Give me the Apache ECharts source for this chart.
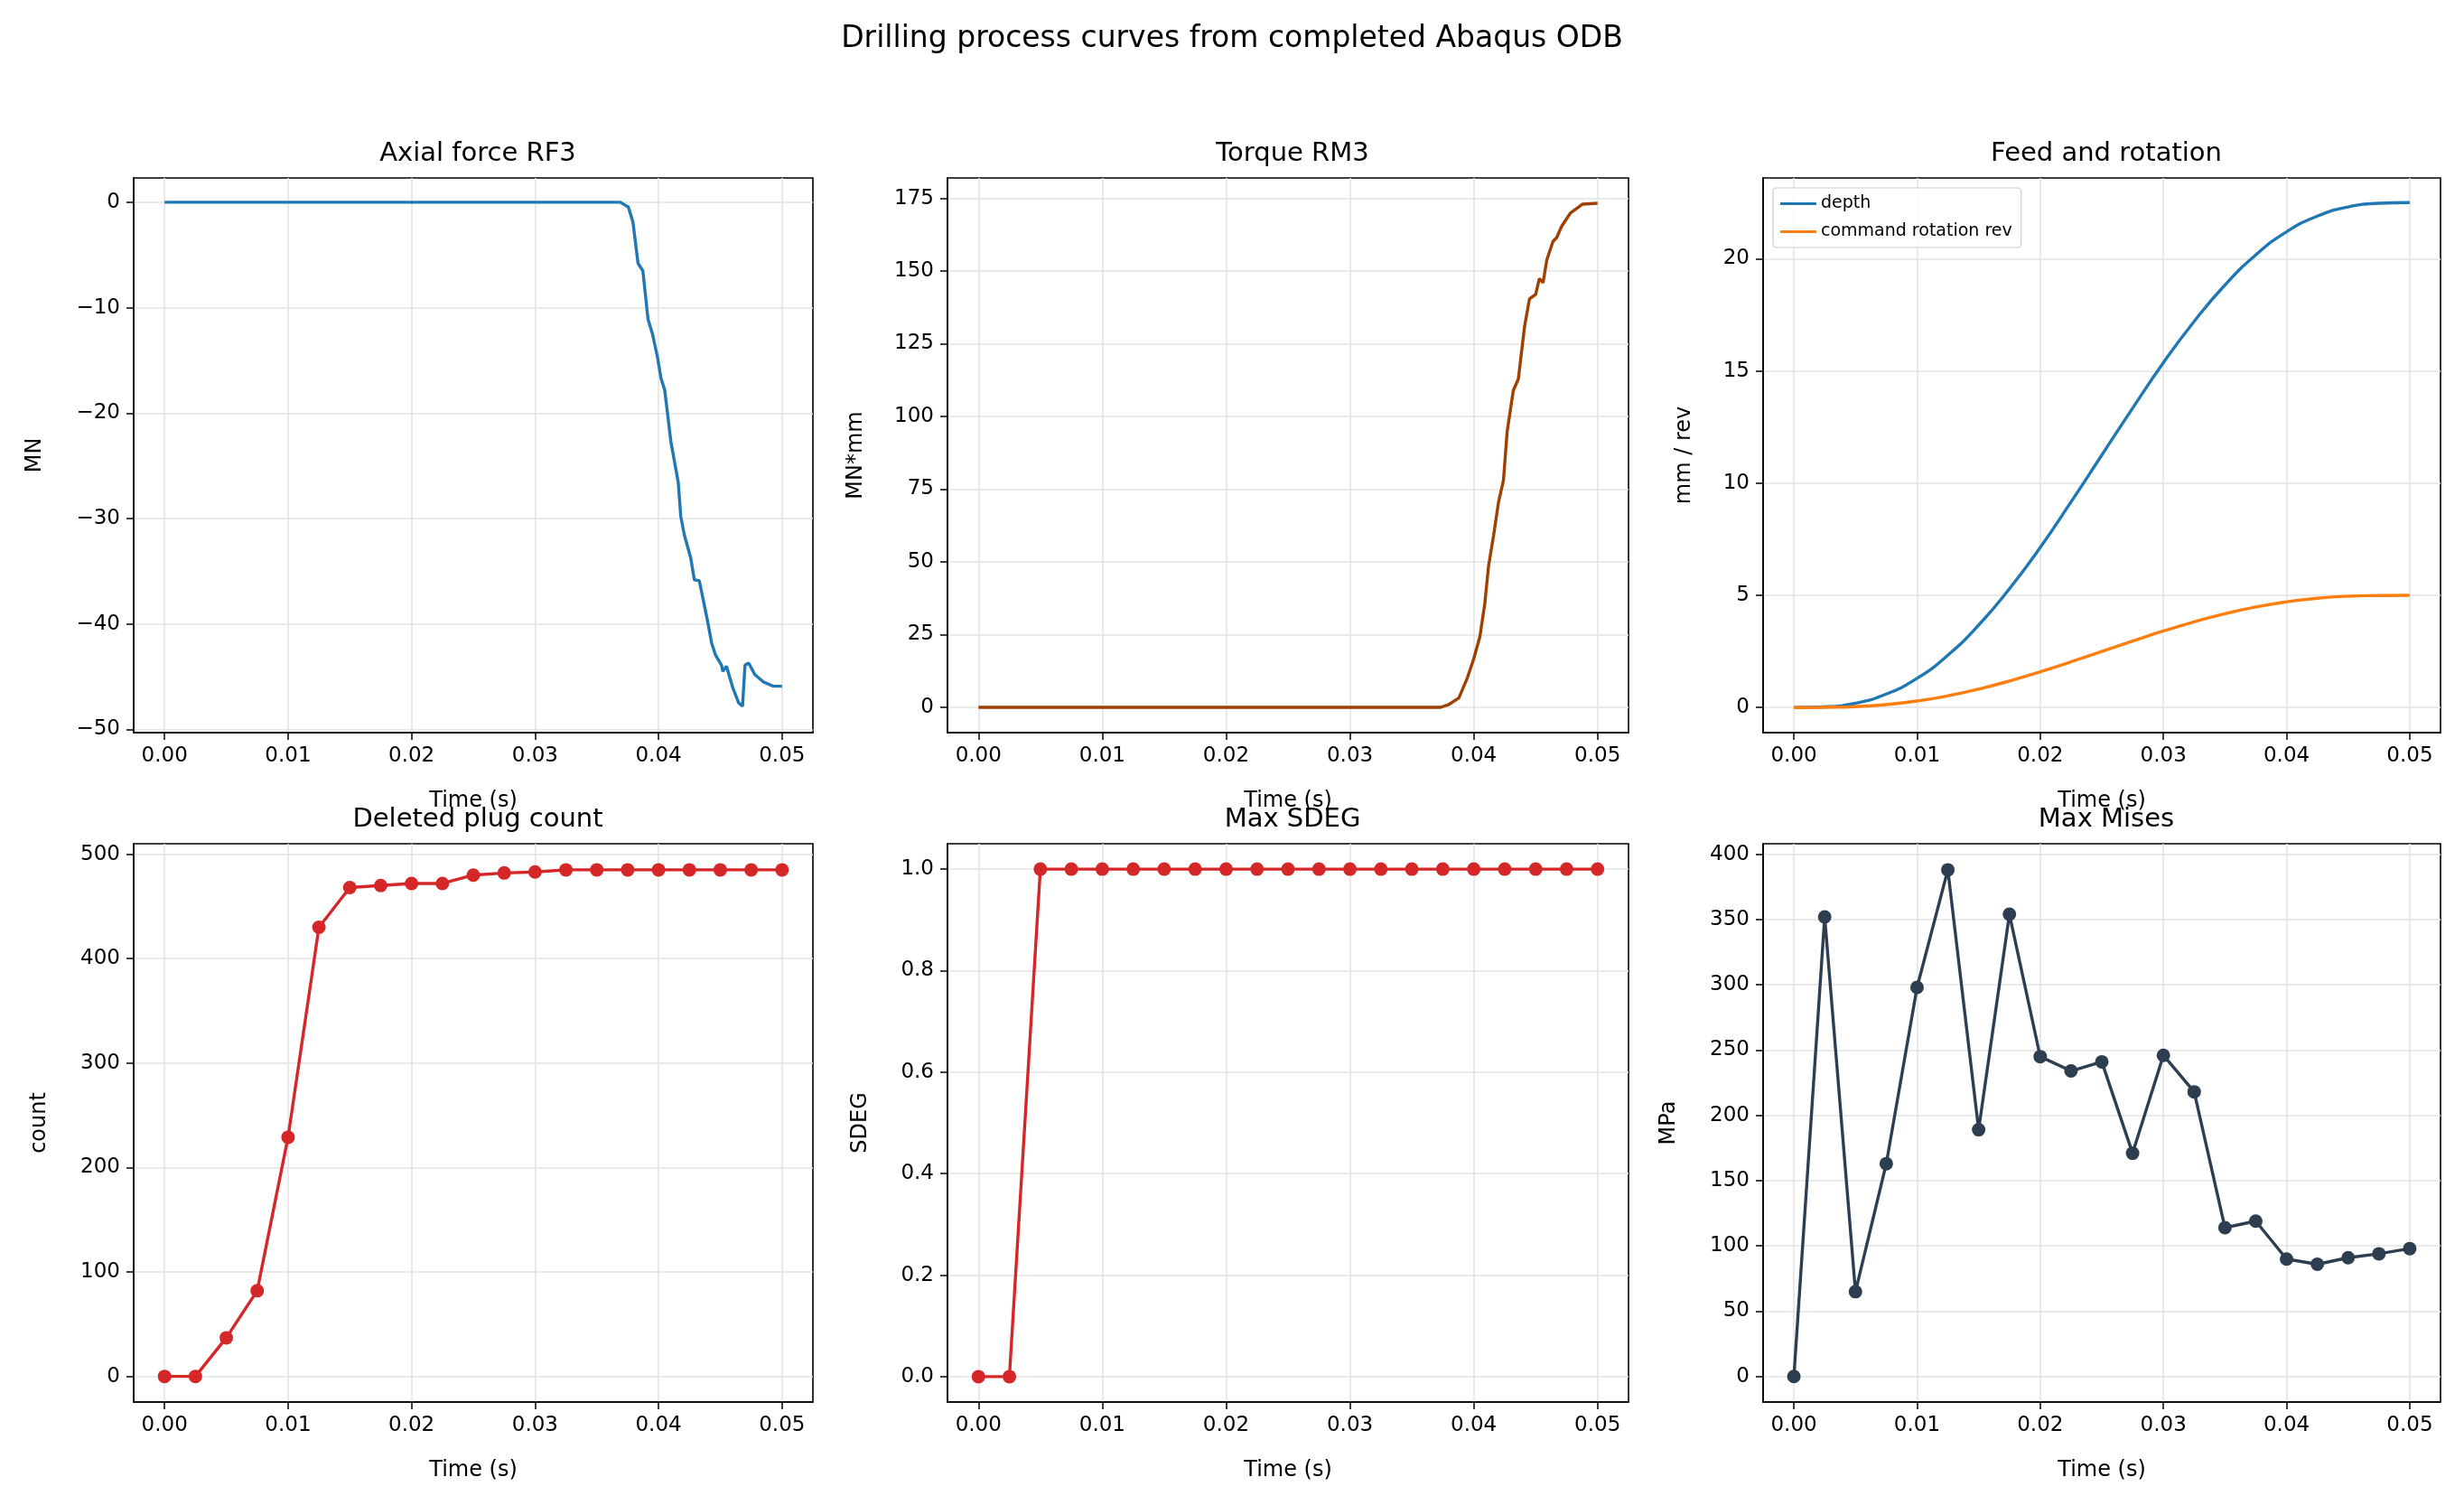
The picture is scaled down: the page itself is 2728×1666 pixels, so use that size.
<!DOCTYPE html>
<html><head><meta charset="utf-8">
<script src="https://cdn.jsdelivr.net/npm/echarts@6/dist/echarts.min.js"></script>
<style>html,body{margin:0;padding:0;background:#fff}#c{width:2728px;height:1666px}</style>
</head><body><div id="c"></div>
<script>
const axialT = [0,0.0369,0.03756,0.03793,0.03834,0.03873,0.03915,0.03951,0.0399,0.0402,0.0405,0.041,0.0416,0.0418,0.0421,0.0426,0.0429,0.0433,0.0439,0.0443,0.0446,0.0451,0.0452,0.0455,0.046,0.0465,0.0468,0.047,0.0473,0.0478,0.0485,0.0493,0.05];
const axialV = [0,0,-0.46,-1.9,-5.8,-6.5,-11.1,-12.5,-14.6,-16.7,-17.8,-22.7,-26.6,-29.8,-31.6,-33.7,-35.8,-35.9,-39.3,-41.8,-42.9,-43.9,-44.5,-44.0,-46.0,-47.5,-47.8,-43.9,-43.7,-44.8,-45.5,-45.9,-45.9];
const torqueT = [0,0.03732,0.038,0.0388,0.0395,0.04,0.0405,0.0409,0.0412,0.0416,0.042,0.0424,0.0427,0.0432,0.0436,0.0441,0.0445,0.045,0.0453,0.0456,0.0459,0.0464,0.0467,0.0471,0.0478,0.0488,0.05];
const torqueV = [0,0,1,3.2,10.3,16.7,24.4,35.9,48.7,59,70.5,78,94.9,109,112.8,130.8,140.4,142,147.4,146,153.8,160.2,161.5,165.4,169.9,173,173.3];
const frameT = [0,0.0025,0.005,0.0075,0.01,0.0125,0.015,0.0175,0.02,0.0225,0.025,0.0275,0.03,0.0325,0.035,0.0375,0.04,0.0425,0.045,0.0475,0.05];
const depth = [0,0.03,0.19,0.6,1.3,2.33,3.67,5.29,7.13,9.16,11.25,13.34,15.37,17.21,18.83,20.17,21.2,21.9,22.31,22.47,22.5];
const rotation = [0,0.01,0.04,0.13,0.29,0.52,0.82,1.18,1.59,2.04,2.5,2.96,3.41,3.82,4.18,4.48,4.71,4.87,4.96,4.99,5];
const plug = [0,0,37,82,229,430,468,470,472,472,480,482,483,485,485,485,485,485,485,485,485];
const sdeg = [0,0,1,1,1,1,1,1,1,1,1,1,1,1,1,1,1,1,1,1,1];
const mises = [0,352,65,163,298,388,189,354,245,234,241,171,246,218,114,119,90,86,91,94,98];
const xTicks = [0,0.01,0.02,0.03,0.04,0.05];

const zip = (a,b)=>a.map((v,i)=>[v,b[i]]);
const F = 'DejaVu Sans';
const grids = [
 {left:148,top:197,width:752,height:614},{left:1049,top:197,width:754,height:614},{left:1952,top:197,width:750,height:614},
 {left:148,top:934,width:752,height:618},{left:1049,top:934,width:754,height:618},{left:1952,top:934,width:750,height:618}];
const titles = ['Axial force RF3','Torque RM3','Feed and rotation','Deleted plug count','Max SDEG','Max Mises'];
const yNames = ['MN','MN*mm','mm / rev','count','SDEG','MPa'];
const yGaps = [97,89,75,92,84,92];
const yCfg = [
 {min:-50.3,max:2.3,ticks:[-50,-40,-30,-20,-10,0],d:0},
 {min:-8.7,max:182,ticks:[0,25,50,75,100,125,150,175],d:0},
 {min:-1.12,max:23.6,ticks:[0,5,10,15,20],d:0},
 {min:-24.5,max:510,ticks:[0,100,200,300,400,500],d:0},
 {min:-0.05,max:1.05,ticks:[0,0.2,0.4,0.6,0.8,1.0],d:1},
 {min:-19.5,max:408,ticks:[0,50,100,150,200,250,300,350,400],d:0}];
const fmt = (v,d)=>v.toFixed(d).replace('-','\u2212');
const axLine = {show:true,onZero:false,lineStyle:{color:'#000',width:1.6}};
const xAxis = grids.map((g,i)=>({type:'value',gridIndex:i,min:-0.0025,max:0.0525,
  name:'Time (s)',nameLocation:'middle',nameGap:64,nameTextStyle:{fontFamily:F,fontSize:24,color:'#000'},
  axisLine:axLine,axisTick:{show:true,length:8,lineStyle:{color:'#000',width:1.5},customValues:xTicks},
  axisLabel:{fontFamily:F,fontSize:23,color:'#000',margin:15,customValues:xTicks,formatter:v=>fmt(v,2)},
  splitLine:{show:true,lineStyle:{color:'#e3e3e3',width:1.5}}}));
const yAxis = grids.map((g,i)=>({type:'value',gridIndex:i,min:yCfg[i].min,max:yCfg[i].max,
  name:yNames[i],nameLocation:'middle',nameGap:yGaps[i],nameTextStyle:{fontFamily:F,fontSize:24,color:'#000'},
  axisLine:axLine,axisTick:{show:true,length:8,lineStyle:{color:'#000',width:1.5},customValues:yCfg[i].ticks},
  axisLabel:{fontFamily:F,fontSize:23,color:'#000',margin:15,customValues:yCfg[i].ticks,formatter:v=>fmt(v,yCfg[i].d)},
  splitLine:{show:true,lineStyle:{color:'#e3e3e3',width:1.5}}}));
const ln = (i,data,color,name,sym,smooth)=>({type:'line',name:name,xAxisIndex:i,yAxisIndex:i,data:data,smooth:!!smooth,
  showSymbol:!!sym,symbol:'circle',symbolSize:15,itemStyle:{color:color},lineStyle:{color:color,width:3.4},animation:false});
const option = {
 backgroundColor:'#fff',
 title:[{text:'Drilling process curves from completed Abaqus ODB',left:'center',top:22,textStyle:{fontFamily:F,fontSize:33,fontWeight:'normal',color:'#000'}}]
   .concat(grids.map((g,i)=>({text:titles[i],left:g.left+g.width/2,top:g.top-46,textAlign:'center',textStyle:{fontFamily:F,fontSize:29,fontWeight:'normal',color:'#000'}}))),
 grid:grids.map(g=>Object.assign({show:true,borderColor:'#000',borderWidth:1.6},g)),
 xAxis:xAxis,yAxis:yAxis,
 legend:{data:['depth','command rotation rev'],orient:'vertical',left:1963,top:208,itemWidth:40,itemHeight:3,itemGap:12,
   padding:[8,10,8,8],borderColor:'#ccc',borderWidth:1.2,borderRadius:4,backgroundColor:'rgba(255,255,255,0.8)',
   textStyle:{fontFamily:F,fontSize:19,color:'#000'},icon:'rect'},
 series:[
  ln(0,zip(axialT,axialV),'#1f77b4'),
  ln(1,zip(torqueT,torqueV),'#a04000'),
  ln(2,zip(frameT,depth),'#1f77b4','depth',false,true),
  ln(2,zip(frameT,rotation),'#ff7f0e','command rotation rev',false,true),
  ln(3,zip(frameT,plug),'#d62728',null,true),
  ln(4,zip(frameT,sdeg),'#d62728',null,true),
  ln(5,zip(frameT,mises),'#2c3e50',null,true)]
};
echarts.init(document.getElementById('c')).setOption(option);
</script></body></html>
